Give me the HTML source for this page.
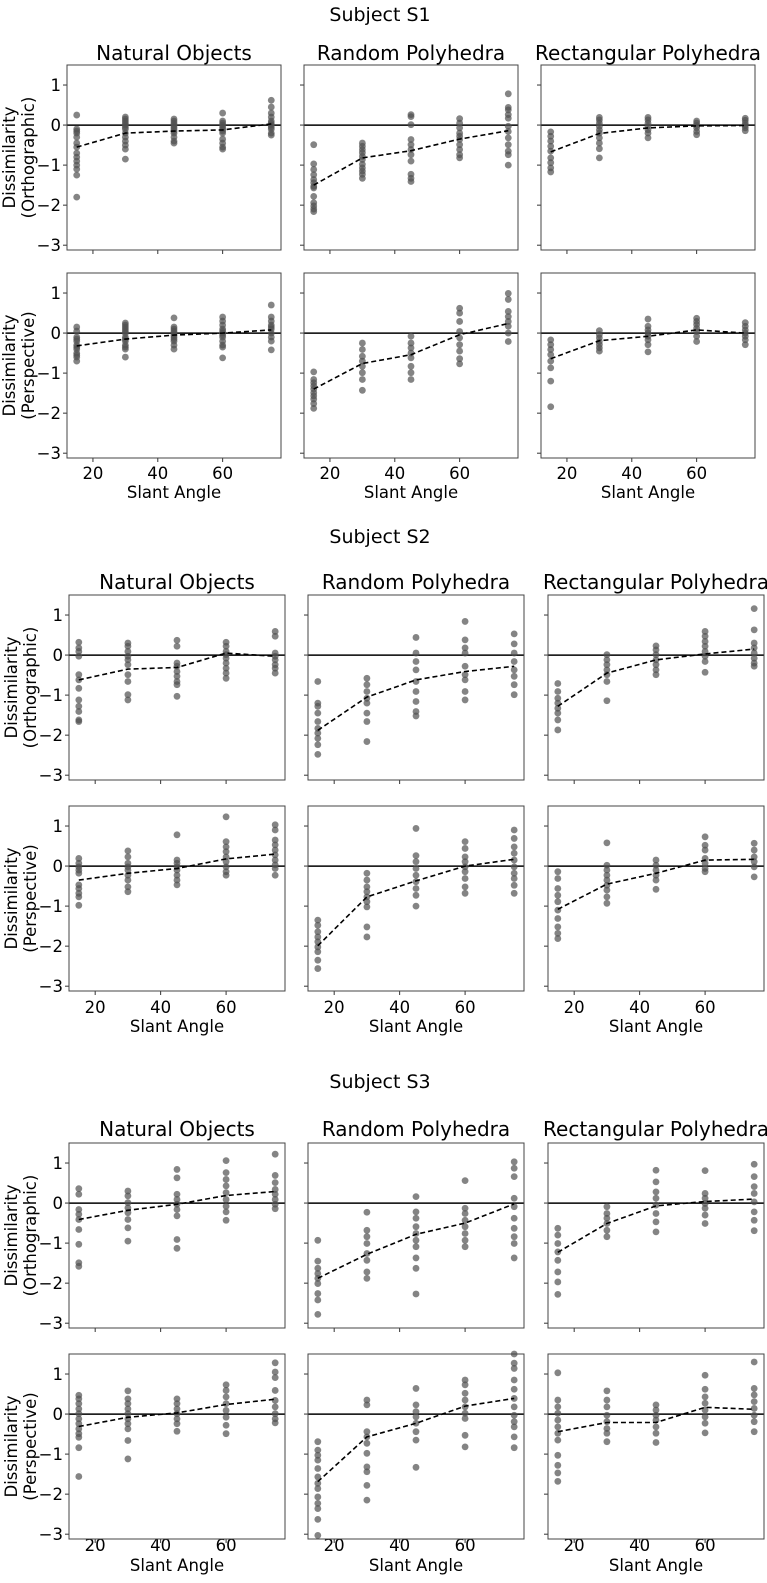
<!DOCTYPE html>
<html><head><meta charset="utf-8">
<style>
html,body{margin:0;padding:0;background:#fff;}
svg{display:block;font-family:"DejaVu Sans","Liberation Sans",sans-serif;}
</style></head>
<body>
<svg id="fig" width="767" height="1583" viewBox="0 0 767 1583" xmlns="http://www.w3.org/2000/svg"></svg>
<script>
const angles = [15, 30, 45, 60, 75];
const xTicks = [20, 40, 60];
const yTicks = [1, 0, -1, -2, -3];
const subjects = ["S1", "S2", "S3"];
const categories = ["Natural Objects", "Random Polyhedra", "Rectangular Polyhedra"];
const projections = ["Orthographic", "Perspective"];

const s1OrthNat = [[0.25,-0.1,-0.15,-0.2,-0.3,-0.45,-0.55,-0.7,-0.8,-0.9,-1.0,-1.1,-1.25,-1.8],[0.2,0.15,0.1,0.05,0,-0.05,-0.1,-0.2,-0.3,-0.4,-0.5,-0.6,-0.85],[0.15,0.1,0.05,0,-0.05,-0.1,-0.15,-0.2,-0.3,-0.4,-0.45],[0.3,0.1,0.05,0,-0.05,-0.1,-0.15,-0.2,-0.35,-0.45,-0.55,-0.6],[0.62,0.45,0.3,0.2,0.1,0.05,0,-0.05,-0.1,-0.2,-0.25]];
const s1OrthRand = [[-0.49,-0.97,-1.11,-1.24,-1.36,-1.44,-1.53,-1.57,-1.78,-1.94,-2.02,-2.1,-2.16],[-0.45,-0.53,-0.61,-0.69,-0.78,-0.86,-0.98,-1.07,-1.15,-1.23,-1.33],[0.26,0.21,0.01,-0.36,-0.49,-0.61,-0.74,-0.9,-1.23,-1.33,-1.41],[0.16,0.05,-0.07,-0.2,-0.28,-0.36,-0.49,-0.61,-0.74,-0.82],[0.78,0.44,0.38,0.26,0.17,-0.03,-0.16,-0.32,-0.49,-0.65,-0.74,-1.0]];
const s1OrthRect = [[-0.17,-0.28,-0.4,-0.53,-0.65,-0.82,-0.94,-1.07,-1.17],[0.19,0.13,0.05,-0.03,-0.12,-0.2,-0.32,-0.45,-0.59,-0.82],[0.19,0.13,0.05,-0.03,-0.12,-0.2,-0.32],[0.1,0.05,-0.01,-0.07,-0.16,-0.24],[0.17,0.12,0.05,-0.01,-0.07,-0.14]];
const s1PerNat = [[0.15,0.05,-0.1,-0.15,-0.2,-0.3,-0.35,-0.4,-0.5,-0.55,-0.6,-0.7],[0.25,0.2,0.15,0.1,0.05,0,-0.1,-0.15,-0.2,-0.3,-0.35,-0.4,-0.6],[0.38,0.15,0.1,0.05,0,-0.05,-0.1,-0.15,-0.2,-0.3,-0.4],[0.4,0.3,0.2,0.1,0.05,0,-0.05,-0.1,-0.2,-0.3,-0.35,-0.62],[0.7,0.4,0.3,0.2,0.15,0.1,0,-0.1,-0.2,-0.42]];
const s1PerRand = [[-0.97,-1.16,-1.24,-1.32,-1.4,-1.49,-1.57,-1.65,-1.76,-1.88],[-0.25,-0.41,-0.58,-0.7,-0.83,-0.99,-1.16,-1.43],[-0.08,-0.25,-0.37,-0.5,-0.62,-0.83,-0.99,-1.16],[0.62,0.5,0.29,0.04,-0.12,-0.29,-0.45,-0.64,-0.77],[0.99,0.84,0.54,0.41,0.29,0.17,0,-0.21]];
const s1PerRect = [[-0.17,-0.29,-0.41,-0.54,-0.7,-0.87,-1.2,-1.84],[0.06,-0.04,-0.12,-0.21,-0.29,-0.37,-0.45],[0.35,0.17,0.08,0,-0.08,-0.17,-0.29,-0.47],[0.37,0.29,0.21,0.12,0.04,-0.08,-0.21],[0.26,0.17,0.08,0,-0.08,-0.17,-0.29]];
const s2OrthNat = [[0.32,0.18,0.09,-0.03,-0.49,-0.62,-0.83,-1.12,-1.28,-1.41,-1.62,-1.66],[0.3,0.22,0.09,-0.03,-0.12,-0.24,-0.49,-0.66,-0.99,-1.12],[0.37,0.22,-0.2,-0.28,-0.41,-0.53,-0.66,-0.74,-1.03],[0.32,0.22,0.09,0.01,-0.08,-0.2,-0.33,-0.45,-0.58],[0.59,0.47,0.05,-0.03,-0.12,-0.24,-0.33,-0.45]];
const s2OrthRand = [[-0.66,-1.2,-1.28,-1.45,-1.66,-1.83,-1.95,-2.08,-2.24,-2.48],[-0.58,-0.74,-0.91,-1.08,-1.2,-1.45,-1.66,-2.16],[0.44,0.05,-0.16,-0.37,-0.66,-0.91,-1.16,-1.41,-1.52],[0.84,0.38,0.18,0.05,-0.28,-0.49,-0.62,-0.91,-1.12],[0.53,0.28,0.05,-0.16,-0.37,-0.53,-0.74,-0.99]];
const s2OrthRect = [[-0.71,-0.91,-1.08,-1.2,-1.33,-1.45,-1.62,-1.87],[0.01,-0.12,-0.24,-0.37,-0.49,-0.66,-1.14],[0.23,0.13,0.01,-0.12,-0.24,-0.37,-0.49],[0.59,0.47,0.34,0.22,0.09,-0.03,-0.16,-0.43],[1.16,0.63,0.3,0.18,0.05,-0.08,-0.2,-0.28]];
const s2PerNat = [[0.19,0.07,-0.02,-0.1,-0.18,-0.47,-0.56,-0.68,-0.77,-0.98],[0.38,0.23,0.07,-0.02,-0.1,-0.23,-0.35,-0.52,-0.64],[0.78,0.15,0.07,-0.02,-0.1,-0.23,-0.35,-0.47],[1.23,0.61,0.48,0.36,0.23,0.11,-0.02,-0.14,-0.23],[1.03,0.9,0.65,0.53,0.4,0.28,0.15,0.03,-0.06,-0.23]];
const s2PerRand = [[-1.35,-1.48,-1.64,-1.77,-1.89,-2.02,-2.14,-2.35,-2.56],[-0.18,-0.35,-0.52,-0.64,-0.77,-0.89,-1.02,-1.52,-1.77],[0.94,0.26,0.11,-0.06,-0.23,-0.39,-0.56,-0.73,-1.0],[0.61,0.44,0.23,0.11,-0.02,-0.14,-0.31,-0.52,-0.68],[0.9,0.69,0.48,0.32,0.15,-0.02,-0.18,-0.31,-0.48,-0.68]];
const s2PerRect = [[-0.14,-0.31,-0.56,-0.73,-0.89,-1.1,-1.31,-1.52,-1.68,-1.81],[0.58,0.02,-0.1,-0.23,-0.35,-0.48,-0.6,-0.77,-0.93],[0.15,0.02,-0.1,-0.23,-0.35,-0.58],[0.73,0.52,0.4,0.19,0.07,-0.06,-0.14],[0.57,0.4,0.23,0.11,-0.02,-0.27]];
const s3OrthNat = [[0.36,0.22,-0.16,-0.28,-0.41,-0.66,-1.03,-1.49,-1.58],[0.3,0.18,0.01,-0.12,-0.24,-0.41,-0.62,-0.95],[0.84,0.63,0.22,0.09,-0.03,-0.16,-0.32,-0.91,-1.13],[1.06,0.76,0.59,0.43,0.26,0.09,-0.08,-0.22,-0.43],[1.22,0.69,0.51,0.34,0.22,0.09,-0.03,-0.14]];
const s3OrthRand = [[-0.93,-1.45,-1.63,-1.76,-1.88,-2.01,-2.26,-2.42,-2.78],[-0.23,-0.68,-0.84,-1.01,-1.26,-1.43,-1.72,-1.88],[0.16,-0.22,-0.38,-0.59,-0.76,-0.93,-1.09,-1.37,-1.63,-2.27],[0.56,-0.13,-0.26,-0.43,-0.59,-0.76,-0.93,-1.09],[1.03,0.87,0.66,0.12,-0.09,-0.38,-0.63,-0.84,-1.01,-1.37]];
const s3OrthRect = [[-0.63,-0.8,-1.01,-1.22,-1.43,-1.72,-1.97,-2.28],[-0.09,-0.26,-0.38,-0.51,-0.68,-0.84],[0.82,0.53,0.28,0.12,-0.05,-0.26,-0.47,-0.72],[0.81,0.24,0.12,-0.01,-0.13,-0.3,-0.51],[0.97,0.66,0.41,0.24,0.03,-0.22,-0.43,-0.69]];
const s3PerNat = [[0.47,0.38,0.26,0.13,0.01,-0.12,-0.24,-0.37,-0.49,-0.58,-0.84,-1.56],[0.58,0.38,0.26,0.13,0.01,-0.12,-0.24,-0.37,-0.66,-1.12],[0.38,0.26,0.13,0.01,-0.12,-0.24,-0.43],[0.73,0.59,0.43,0.26,0.09,-0.08,-0.28,-0.49],[1.28,1.05,0.91,0.59,0.34,0.18,0.01,-0.12,-0.22]];
const s3PerRand = [[-0.69,-0.9,-1.03,-1.15,-1.36,-1.57,-1.73,-1.86,-2.07,-2.23,-2.36,-2.63,-3.03],[0.35,0.23,-0.44,-0.57,-0.73,-0.98,-1.32,-1.44,-1.78,-2.15],[0.64,0.23,0.06,-0.07,-0.23,-0.44,-0.65,-1.33],[0.85,0.73,0.52,0.35,0.18,0.02,-0.11,-0.53,-0.82],[1.5,1.27,1.14,0.85,0.62,0.39,0.18,-0.03,-0.19,-0.32,-0.57,-0.84]];
const s3PerRect = [[1.03,0.35,0.18,0.02,-0.15,-0.32,-0.48,-0.65,-1.03,-1.28,-1.47,-1.68],[0.58,0.35,0.18,-0.03,-0.19,-0.36,-0.48,-0.69],[0.23,0.1,-0.03,-0.15,-0.32,-0.48,-0.71],[0.97,0.62,0.43,0.27,0.1,-0.07,-0.23,-0.47],[1.3,0.64,0.48,0.31,0.14,-0.03,-0.19,-0.44]];

const s1OrthMeans = [[-0.55,-0.2,-0.15,-0.12,0.03],[-1.5,-0.82,-0.64,-0.35,-0.14],[-0.67,-0.21,-0.07,-0.02,-0.01]];
const s1PerMeans = [[-0.32,-0.15,-0.05,0.0,0.08],[-1.4,-0.76,-0.54,-0.04,0.24],[-0.64,-0.19,-0.08,0.08,0.0]];
const s2OrthMeans = [[-0.62,-0.35,-0.31,0.05,-0.03],[-1.88,-1.05,-0.62,-0.41,-0.28],[-1.28,-0.45,-0.12,0.03,0.15]];
const s2PerMeans = [[-0.35,-0.18,-0.06,0.18,0.3],[-1.99,-0.77,-0.37,0.0,0.17],[-1.08,-0.45,-0.18,0.15,0.17]];
const s3OrthMeans = [[-0.41,-0.18,-0.03,0.19,0.29],[-1.88,-1.28,-0.78,-0.5,-0.02],[-1.23,-0.51,-0.07,0.04,0.1]];
const s3PerMeans = [[-0.31,-0.08,0.03,0.24,0.37],[-1.69,-0.57,-0.23,0.2,0.39],[-0.44,-0.21,-0.21,0.17,0.12]];

const allPoints = [[[s1OrthNat,s1OrthRand,s1OrthRect],[s1PerNat,s1PerRand,s1PerRect]],
                   [[s2OrthNat,s2OrthRand,s2OrthRect],[s2PerNat,s2PerRand,s2PerRect]],
                   [[s3OrthNat,s3OrthRand,s3OrthRect],[s3PerNat,s3PerRand,s3PerRect]]];
const allMeans = [[s1OrthMeans,s1PerMeans],[s2OrthMeans,s2PerMeans],[s3OrthMeans,s3PerMeans]];

const layout = [
  {lefts:[67,304,541], w:214, tops:[65,273], title:14, ptitle:60, tick:479, xlab:498, ylx:[9,28]},
  {lefts:[69,308,548], w:216, tops:[595,806], title:536, ptitle:589, tick:1013, xlab:1032, ylx:[11,30]},
  {lefts:[69,308,548], w:216, tops:[1143,1354], title:1081, ptitle:1136, tick:1551, xlab:1571, ylx:[11,30]}
];
const H = 185, XMIN = 12, XMAX = 78, YMIN = -3.12, YMAX = 1.5;
const NS = "http://www.w3.org/2000/svg";
const svg = document.getElementById("fig");
function mk(tag, attrs, parent, text){
  const e = document.createElementNS(NS, tag);
  for (const k in attrs) e.setAttribute(k, attrs[k]);
  if (text !== undefined) e.textContent = text;
  (parent||svg).appendChild(e);
  return e;
}

subjects.forEach((s, si) => {
  const L = layout[si];
  const t = mk("text", {x:380, y:L.title+7, "text-anchor":"middle", "font-size":19}, svg, "Subject " + s);
  
  
  categories.forEach((c, ci) => {
    const left = L.lefts[ci];
    const ct = mk("text", {x:left+L.w/2, y:L.ptitle, "text-anchor":"middle", "font-size":20}, svg, c);
    
    
    projections.forEach((p, pi) => {
      const top = L.tops[pi];
      const xs = v => left + (v - XMIN) / (XMAX - XMIN) * L.w;
      const ys = v => top + (YMAX - v) / (YMAX - YMIN) * H;
      const g = mk("g", {});
      
      
      yTicks.forEach(v => {
        mk("line", {x1:left-4, x2:left, y1:ys(v), y2:ys(v), stroke:"#333", "stroke-width":1}, g);
        if (ci === 0) {
          const tl = mk("text", {x:left-6, y:ys(v)+6, "text-anchor":"end", "font-size":16.5}, g, v < 0 ? "\u2212" + (-v) : String(v));
          
          
        }
      });
      xTicks.forEach(v => {
        mk("line", {x1:xs(v), x2:xs(v), y1:top+H, y2:top+H+4, stroke:"#333", "stroke-width":1}, g);
        if (pi === 1) {
          const tl = mk("text", {x:xs(v), y:L.tick, "text-anchor":"middle", "font-size":16.5}, g, String(v));
          
          
        }
      });
      mk("line", {x1:left, x2:left+L.w, y1:ys(0), y2:ys(0), stroke:"#000", "stroke-width":1.5}, g);
      allPoints[si][pi][ci].forEach((vals, ai) => {
        vals.forEach(v => {
          const d = mk("circle", {cx:xs(angles[ai]), cy:ys(v), r:3.4, fill:"rgba(80,80,80,0.7)"}, g);
          
          
        });
      });
      const m = allMeans[si][pi][ci];
      const pts = m.map((v, ai) => xs(angles[ai]).toFixed(1) + "," + ys(v).toFixed(1)).join(" ");
      const pl = mk("polyline", {points:pts, fill:"none", stroke:"#000", "stroke-width":1.6, "stroke-dasharray":"5,3"}, g);
      
      
      mk("rect", {x:left, y:top, width:L.w, height:H, fill:"none", stroke:"#444", "stroke-width":1}, g);
      if (ci === 0) {
        const yl = mk("text", {"text-anchor":"middle", "font-size":16.5, transform:"translate(" + L.ylx[0] + "," + (top+H/2) + ") rotate(-90)"}, g);
        mk("tspan", {x:0, y:6}, yl, "Dissimilarity");
        mk("tspan", {x:0, y:25}, yl, "(" + p + ")");
        
        
      }
      if (pi === 1) {
        const xl = mk("text", {x:left+L.w/2, y:L.xlab, "text-anchor":"middle", "font-size":16.5}, g, "Slant Angle");
        
        
      }
    });
  });
});
</script>
</body></html>
